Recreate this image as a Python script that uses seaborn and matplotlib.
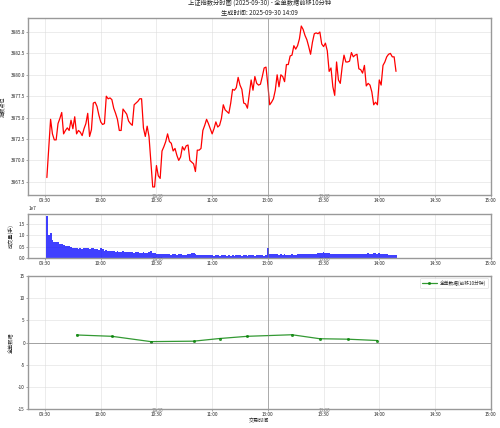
import matplotlib
matplotlib.use("Agg")
import matplotlib.pyplot as plt
import seaborn as sns
import numpy as np
import pandas as pd

# ---------------- data ----------------
minute_idx = list(range(1, 190))
prices = [
    3868.0, 3871.5, 3874.8, 3873.1, 3872.4, 3872.4, 3874.3, 3874.9, 3875.6, 3873.1,
    3873.5, 3873.8, 3873.5, 3874.7, 3873.7, 3875.1, 3873.1, 3873.5, 3873.3, 3872.9,
    3873.7, 3874.3, 3875.5, 3872.8, 3873.6, 3876.7, 3876.8, 3876.3, 3875.3, 3874.5,
    3874.2, 3874.3, 3877.5, 3877.2, 3877.3, 3877.1, 3876.1, 3875.5, 3874.8, 3873.5,
    3873.5, 3876.0, 3875.7, 3875.4, 3874.6, 3874.3, 3874.1, 3876.5, 3876.7, 3876.9,
    3877.2, 3877.2, 3873.8, 3872.8, 3874.0, 3872.8, 3869.8, 3866.9, 3866.9, 3869.4,
    3868.2, 3867.9, 3871.1, 3871.6, 3872.2, 3873.1, 3872.2, 3872.0, 3871.1, 3871.4,
    3870.6, 3870.0, 3870.4, 3871.6, 3871.2, 3871.7, 3871.8, 3870.0, 3869.8, 3869.6,
    3868.7, 3871.2, 3871.2, 3871.4, 3873.5, 3874.1, 3874.8, 3874.3, 3873.7, 3873.1,
    3873.7, 3874.5, 3873.9, 3874.1, 3874.9, 3876.5, 3875.9, 3875.7, 3875.5, 3876.7,
    3878.3, 3878.2, 3878.5, 3879.7, 3878.8, 3878.3, 3876.7, 3876.6, 3876.1, 3877.8,
    3879.4, 3878.2, 3879.8, 3879.0, 3878.8, 3878.9, 3879.8, 3880.8, 3880.9, 3878.8,
    3876.5, 3876.8, 3877.2, 3878.2, 3880.0, 3878.6, 3880.0, 3879.8, 3879.2, 3881.2,
    3881.2, 3882.2, 3882.3, 3883.4, 3883.0, 3883.4, 3884.2, 3885.7, 3885.3, 3884.6,
    3884.1, 3883.3, 3882.4, 3883.8, 3884.8, 3884.9, 3884.8, 3885.0, 3883.6, 3883.3,
    3883.7, 3882.8, 3880.4, 3880.8, 3878.6, 3877.6, 3881.5, 3879.4, 3879.0, 3880.9,
    3882.3, 3881.5, 3881.5, 3881.6, 3882.6, 3882.1, 3882.3, 3882.4, 3880.7, 3880.6,
    3880.2, 3881.1, 3878.7, 3879.0, 3878.8, 3878.0, 3876.5, 3876.8, 3876.5, 3879.4,
    3878.8, 3881.1, 3881.5, 3882.1, 3882.4, 3882.5, 3882.1, 3882.1, 3880.4,
]
volumes_1e7 = [
    1.85, 1.00, 1.10, 0.80, 0.72, 0.70, 0.70, 0.60, 0.62, 0.58,
    0.55, 0.52, 0.55, 0.48, 0.45, 0.43, 0.42, 0.40, 0.42, 0.40,
    0.43, 0.45, 0.44, 0.40, 0.42, 0.44, 0.40, 0.38, 0.36, 0.42,
    0.38, 0.33, 0.35, 0.33, 0.30, 0.32, 0.30, 0.28, 0.30, 0.28,
    0.27, 0.29, 0.27, 0.25, 0.25, 0.27, 0.25, 0.24, 0.26, 0.25,
    0.22, 0.24, 0.25, 0.22, 0.24, 0.28, 0.30, 0.22, 0.20, 0.18,
    0.19, 0.17, 0.18, 0.16, 0.17, 0.18, 0.16, 0.15, 0.17, 0.16,
    0.15, 0.16, 0.18, 0.15, 0.14, 0.15, 0.16, 0.18, 0.21, 0.22,
    0.18, 0.15, 0.14, 0.13, 0.12, 0.13, 0.12, 0.12, 0.13, 0.12,
    0.11, 0.12, 0.12, 0.11, 0.12, 0.13, 0.12, 0.11, 0.12, 0.11,
    0.12, 0.11, 0.12, 0.13, 0.12, 0.11, 0.12, 0.12, 0.11, 0.12,
    0.13, 0.12, 0.11, 0.12, 0.12, 0.13, 0.12, 0.11, 0.12, 0.45,
    0.18, 0.17, 0.18, 0.16, 0.17, 0.15, 0.16, 0.15, 0.16, 0.15,
    0.14, 0.15, 0.16, 0.15, 0.15, 0.16, 0.16, 0.17, 0.16, 0.17,
    0.16, 0.17, 0.18, 0.17, 0.18, 0.19, 0.20, 0.22, 0.24, 0.25,
    0.23, 0.22, 0.20, 0.19, 0.18, 0.17, 0.16, 0.17, 0.16, 0.17,
    0.16, 0.17, 0.16, 0.17, 0.18, 0.17, 0.16, 0.17, 0.18, 0.17,
    0.18, 0.17, 0.19, 0.20, 0.18, 0.19, 0.22, 0.20, 0.19, 0.21,
    0.18, 0.19, 0.17, 0.16, 0.15, 0.14, 0.13, 0.12, 0.12,
]
order_idx = [17, 36, 57, 80, 94, 109, 133, 148, 163, 179]
order_vals = [1.7, 1.4, 0.2, 0.3, 0.9, 1.4, 1.75, 0.85, 0.75, 0.45]

tick_pos = [0, 30, 60, 90, 120, 150, 180, 210, 240]
tick_labels = ["09:30", "10:00", "10:30", "11:00", "13:00", "13:30", "14:00", "14:30", "15:00"]

title_text = "上证指数分时图 (2025-09-30) - 全单数据前移10分钟\n生成时间: 2025-09-30 14:09"

# ---------------- style ----------------
sns.set_theme(style="whitegrid")
plt.rcParams["font.family"] = ["Noto Sans CJK SC", "DejaVu Sans"]
plt.rcParams["axes.unicode_minus"] = False
plt.rcParams["axes.edgecolor"] = "#999999"
plt.rcParams["axes.linewidth"] = 1.0
plt.rcParams["grid.color"] = "#dddddd"
plt.rcParams["grid.linewidth"] = 0.5

FS_TICK = 3.4
FS_LAB = 3.7
FS_TITLE = 4.5

fig = plt.figure(figsize=(5.0, 4.28), dpi=100)
L, W = 0.0566, 0.9248
ax1 = fig.add_axes([L, 0.5444, W, 0.4136])
ax2 = fig.add_axes([L, 0.3972, W, 0.1028])
ax3 = fig.add_axes([L, 0.0444, W, 0.3107])

df_price = pd.DataFrame({"idx": minute_idx, "price": prices})
df_vol = pd.DataFrame({"idx": minute_idx, "vol": [v * 1e7 for v in volumes_1e7]})
df_ord = pd.DataFrame({"idx": order_idx, "val": order_vals})

# price
sns.lineplot(data=df_price, x="idx", y="price", ax=ax1, color="red", linewidth=0.9)
ax1.set_title(title_text, fontsize=FS_TITLE, pad=2, linespacing=1.2)
ax1.set_ylabel("指数点位", fontsize=FS_LAB, labelpad=3)
ax1.set_yticks([3867.5, 3870.0, 3872.5, 3875.0, 3877.5, 3880.0, 3882.5, 3885.0])

# volume
sns.barplot(data=df_vol, x="idx", y="vol", ax=ax2, native_scale=True, color="blue",
            alpha=0.75, width=1.0, errorbar=None, linewidth=0, saturation=1)
ax2.set_ylabel("成交量(手)", fontsize=FS_LAB, labelpad=3)
ax2.set_yticks([0, 0.5e7, 1.0e7, 1.5e7])
ax2.yaxis.get_offset_text().set_fontsize(FS_TICK)
ax2.set_ylim(0, 1.94e7)

# order data
sns.lineplot(data=df_ord, x="idx", y="val", ax=ax3, color="green", linewidth=0.9,
             marker="o", markersize=2.2, markeredgewidth=0, alpha=0.8,
             label="全单数据(前移10分钟)")
ax3.axhline(0, color="gray", linewidth=0.6, alpha=0.8)
ax3.set_ylim(-15, 15)
ax3.set_yticks([-15, -10, -5, 0, 5, 10, 15])
ax3.set_ylabel("全单数据", fontsize=FS_LAB, labelpad=3)
ax3.set_xlabel("交易时间", fontsize=FS_LAB, labelpad=1)
leg = ax3.legend(loc="upper right", fontsize=FS_TICK, frameon=True, handlelength=3)
leg.get_frame().set_linewidth(0.4)

for ax in (ax1, ax2, ax3):
    ax.axvline(120, color="gray", linewidth=0.6, alpha=0.7)
    ax.set_xlim(-9, 240)
    ax.set_xticks(tick_pos)
    ax.set_xticklabels(tick_labels)
    ax.set_xticks([60.6, 150.6], minor=True)
    ax.set_xticklabels(["10:30", "13:30"], minor=True)
    ax.tick_params(axis="both", which="major", labelsize=FS_TICK, length=1.2,
                   width=0.4, pad=1.2, bottom=True, left=True, color="#666666")
    ax.tick_params(axis="x", which="minor", labelsize=FS_TICK, length=0, pad=-0.8,
                   labelcolor="#777777")
    ax.grid(True, which="major", alpha=0.8)
    ax.grid(False, which="minor")
    if ax is not ax3:
        ax.set_xlabel("")

fig.savefig("out.png", dpi=100)
